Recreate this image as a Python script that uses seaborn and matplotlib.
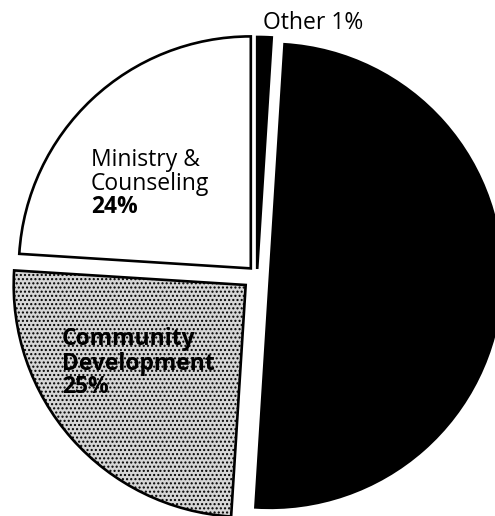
import matplotlib
matplotlib.use("Agg")
import matplotlib.pyplot as plt
import seaborn as sns

# ---- data ----
categories = ["Ministry & Counseling", "Community Development", "Programs", "Other"]
values = [24, 25, 50, 1]
pct_labels = ["24%", "25%", "", "1%"]

# ---- style ----
colors = ["white", "#d6d6d6", "black", "black"]
explode = [0.039, 0.065, 0.056, 0.026]

sns.set_theme(style="white")
plt.rcParams['font.family'] = ['Open Sans', 'DejaVu Sans']
plt.rcParams['hatch.linewidth'] = 1.0

W, H = 495, 516
fig = plt.figure(figsize=(W / 100, H / 100), dpi=100)
ax = fig.add_axes([0, 0, 1, 1])

wedges, _ = ax.pie(values, colors=colors, startangle=90, counterclock=True,
                   explode=explode, radius=1.0,
                   wedgeprops=dict(edgecolor="black", linewidth=1.9))
wedges[1].set_hatch("....")

# pixel -> data helpers (center ~ (257,275) px, radius 232 px)
CX, CY, R = 257, 275, 232
def X(px):
    return (px - CX) / R
def Y(py):
    return (CY - py) / R

ax.set_xlim(X(0), X(W))
ax.set_ylim(Y(H), Y(0))
ax.set_aspect("auto")
ax.axis("off")

fs = 16.5
# Ministry & Counseling
ax.text(X(91), Y(166), "Ministry &", fontsize=fs, ha="left", va="baseline", color="black")
ax.text(X(91), Y(190), "Counseling", fontsize=fs, ha="left", va="baseline", color="black")
ax.text(X(91), Y(213), pct_labels[0], fontsize=fs, fontweight="bold", ha="left", va="baseline", color="black")
# Community Development
ax.text(X(62), Y(345), "Community", fontsize=fs, fontweight="bold", ha="left", va="baseline", color="black")
ax.text(X(62), Y(370), "Development", fontsize=fs, fontweight="bold", ha="left", va="baseline", color="black")
ax.text(X(62), Y(393), pct_labels[1], fontsize=fs, fontweight="bold", ha="left", va="baseline", color="black")
# Other
ax.text(X(263), Y(29), categories[3] + " " + pct_labels[3], fontsize=fs, ha="left", va="baseline", color="black")

fig.savefig("out.png", dpi=100, facecolor="white")
